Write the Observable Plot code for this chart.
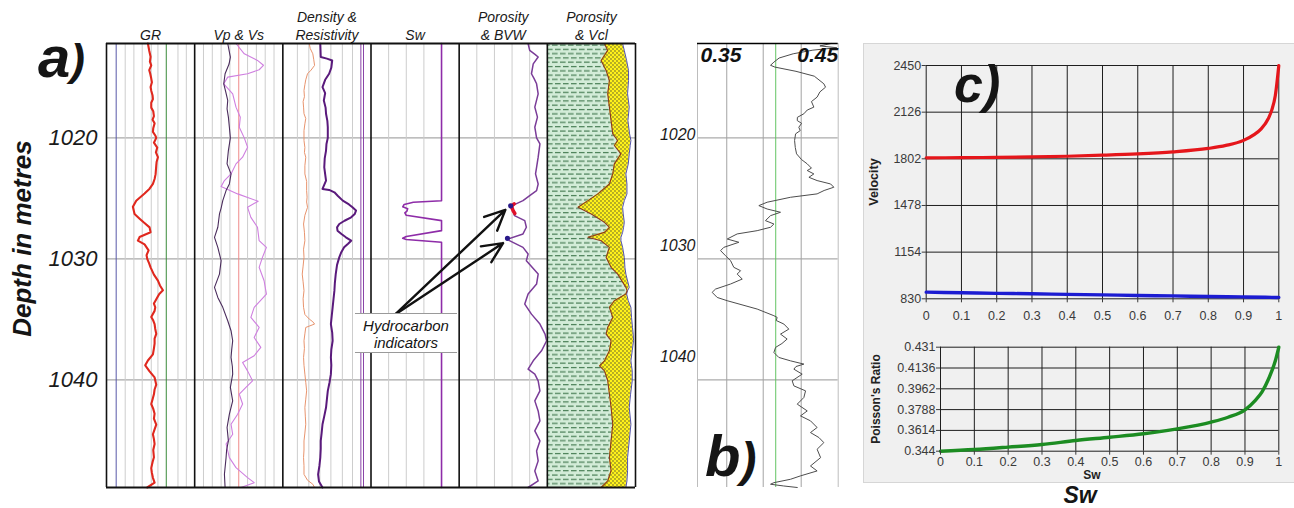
<!DOCTYPE html>
<html><head><meta charset="utf-8">
<script src="https://cdn.jsdelivr.net/npm/d3@7"></script>
<script src="https://cdn.jsdelivr.net/npm/@observablehq/plot@0.6"></script>
<style>
html,body{margin:0;background:#fff;}
#fig{position:relative;width:1294px;height:508px;overflow:hidden;font-family:"Liberation Sans",Arial,sans-serif;}
#cbox{position:absolute;left:863px;top:43px;width:440px;height:440px;background:#f0f0f0;border:1px solid #d6d6d6;box-sizing:border-box;}
</style></head><body><div id="fig"><div id="cbox"></div></div>
<script>
// ---------------- DATA ----------------
const depthDomain = [1012.2, 1048.9];
const depthTicks = [1020, 1030, 1040];
const trackTitles = ["GR", "Vp & Vs", "Density &\nResistivity", "Sw", "Porosity\n& BVW", "Porosity\n& Vcl"];
const trackEdges = [0, 1, 2, 3, 4, 5, 6];

// GR (API) [depth, value]
const gr = [[1012.2,62],[1012.8,64],[1013.3,66],[1013.7,65],[1014.0,67],[1014.4,64],[1014.7,65.5],[1015.1,67],[1015.4,68],[1015.8,66],[1016.1,67],[1016.5,69],[1016.8,69.5],[1017.1,67],[1017.5,67],[1017.8,70],[1018.2,71],[1018.5,69],[1018.8,72],[1019.2,70],[1019.5,69.5],[1019.8,73],[1020.0,74.5],[1020.4,71],[1020.8,76],[1021.2,74],[1021.6,77],[1022.0,75],[1022.3,74.5],[1023.0,73.5],[1023.4,72],[1023.8,69.5],[1024.2,64.5],[1024.6,57],[1025.2,44.5],[1025.7,39.5],[1026.3,42],[1026.7,50],[1027.0,56],[1027.4,64.5],[1027.8,66],[1028.2,49.5],[1028.5,47],[1028.8,57],[1029.3,63],[1029.7,60],[1030.0,61],[1030.4,64],[1030.7,66],[1031.3,71],[1031.8,77],[1032.2,80],[1032.6,84.5],[1032.9,79],[1033.2,76],[1033.7,71],[1034.0,73],[1034.3,72],[1034.8,67],[1035.1,70],[1035.4,72],[1035.8,73],[1036.2,74.5],[1036.6,72],[1037.0,72],[1037.4,71],[1037.9,69.5],[1038.4,62],[1038.8,58],[1039.3,64.5],[1039.8,72],[1040.4,74.5],[1040.8,72],[1041.2,71],[1041.6,69],[1042.0,67],[1042.4,70],[1042.8,72],[1043.2,71],[1043.7,74.5],[1044.1,72],[1044.5,69.5],[1044.9,71],[1045.3,72],[1045.8,70],[1046.4,71],[1046.8,69],[1047.3,67],[1047.7,68],[1048.1,69.5],[1048.5,72],[1048.9,61]];
const grGrid = [28, 41, 53.5, 67, 77, 107, 119.5];
const grBlue = [14.5];
const grGreen = [89.5];

// Vp (m/s) and Vs (m/s)
const vp = [[1012.2,2250],[1013.05,2400],[1013.6,2640],[1014.0,2748],[1014.37,2670],[1014.7,2460],[1014.98,2100],[1015.53,2028],[1016.36,2190],[1017.46,2250],[1018.29,2328],[1019.12,2310],[1020.0,2400],[1020.77,2460],[1021.6,2370],[1022.15,2250],[1022.98,2160],[1023.53,2040],[1024.03,1980],[1024.63,2280],[1025.24,2652],[1025.74,2460],[1026.57,2520],[1027.39,2640],[1028.5,2670],[1029.05,2802],[1029.88,2730],[1030.7,2670],[1031.81,2760],[1032.91,2802],[1034.01,2580],[1034.84,2520],[1035.67,2670],[1036.5,2580],[1037.32,2700],[1038.01,2580],[1038.57,2370],[1039.26,2460],[1040.08,2550],[1040.63,2430],[1041.19,2310],[1042.0,2370],[1042.84,2280],[1043.67,2160],[1044.5,2190],[1045.3,2070],[1046.43,2130],[1047.26,2250],[1048.08,2460],[1048.5,2580],[1048.9,2340]];
const vpGrid = [1660, 1820, 1980, 2140, 2460, 2620, 2780, 2940];
const vpMid = [2300];
const vs = [[1012.2,800],[1013.32,824],[1013.9,812],[1014.7,776],[1015.53,764],[1016.2,782],[1016.9,800],[1017.6,794],[1018.29,806],[1019.12,815],[1020.0,824],[1021.05,806],[1022.15,794],[1022.98,830],[1023.81,815],[1024.36,785],[1025.19,755],[1025.8,740],[1026.29,725],[1027.39,710],[1028.22,680],[1029.05,710],[1030.15,740],[1031.26,725],[1032.36,680],[1033.19,710],[1034.01,755],[1035.12,800],[1035.94,830],[1036.77,845],[1037.5,836],[1038.15,830],[1038.9,842],[1039.53,845],[1040.63,824],[1041.74,845],[1042.84,815],[1043.94,794],[1045.05,806],[1045.8,790],[1046.43,785],[1047.81,770],[1048.9,776]];

// Resistivity (ohm.m) and density (g/cc)
const res = [[1012.22,8.5],[1013.32,8.6],[1013.45,10.0],[1013.6,11.2],[1014.2,11.0],[1014.7,10.5],[1015.2,9.6],[1015.81,9.0],[1016.3,9.6],[1016.91,9.3],[1017.5,9.7],[1018.01,9.8],[1018.6,10.1],[1019.12,10.2],[1020.0,10.2],[1020.5,9.9],[1021.05,9.8],[1021.7,9.5],[1022.43,9.4],[1023.0,9.6],[1023.53,9.8],[1024.22,9.0],[1024.3,10.5],[1024.5,11.7],[1024.8,12.5],[1025.19,13.6],[1025.5,15.0],[1025.74,15.8],[1026.01,16.6],[1026.3,16.3],[1026.57,15.5],[1026.85,14.0],[1027.12,12.8],[1027.4,12.3],[1027.67,12.4],[1027.95,13.3],[1028.22,14.3],[1028.5,15.5],[1028.75,14.8],[1029.05,13.9],[1029.5,13.2],[1029.88,12.8],[1030.5,12.3],[1031.26,12.0],[1032.0,11.8],[1032.63,11.7],[1033.3,11.5],[1034.01,11.3],[1034.7,11.1],[1035.39,10.9],[1036.1,11.2],[1036.77,11.3],[1037.5,11.0],[1038.15,10.9],[1038.8,11.0],[1039.53,10.9],[1040.2,10.6],[1040.91,10.2],[1041.6,10.0],[1042.29,9.8],[1043.0,9.4],[1043.67,9.0],[1044.4,8.8],[1045.05,8.6],[1045.7,8.6],[1046.43,8.5],[1047.1,8.3],[1047.81,8.0],[1048.4,8.2],[1048.9,9.0]];
const resGrid = [3.3, 5.9, 8.4, 10.9, 13.5, 15.8];
const resCutoffs = [17.7, 18.3];
const rhob = [[1012.22,2.20],[1012.6,2.21],[1013.05,2.24],[1013.5,2.25],[1014.01,2.26],[1014.4,2.22],[1014.7,2.18],[1015.2,2.16],[1015.6,2.15],[1016.08,2.14],[1016.6,2.145],[1017.0,2.13],[1017.46,2.135],[1018.0,2.14],[1018.4,2.16],[1018.84,2.15],[1019.4,2.14],[1020.22,2.14],[1020.8,2.15],[1021.2,2.145],[1021.6,2.16],[1022.3,2.15],[1022.98,2.15],[1023.6,2.17],[1024.36,2.17],[1024.9,2.175],[1025.3,2.17],[1025.74,2.18],[1026.4,2.15],[1027.12,2.135],[1027.8,2.145],[1028.5,2.15],[1029.2,2.135],[1029.88,2.14],[1030.6,2.13],[1031.26,2.12],[1031.9,2.13],[1032.63,2.14],[1033.3,2.13],[1034.01,2.135],[1034.6,2.15],[1034.98,2.20],[1035.2,2.24],[1035.39,2.26],[1035.67,2.16],[1036.2,2.15],[1036.77,2.14],[1037.4,2.145],[1038.15,2.135],[1038.8,2.14],[1039.53,2.15],[1040.2,2.16],[1040.91,2.17],[1041.6,2.16],[1042.29,2.15],[1043.0,2.155],[1043.67,2.16],[1044.4,2.15],[1045.05,2.14],[1045.8,2.14],[1046.43,2.135],[1047.1,2.14],[1047.81,2.14],[1048.3,2.18],[1048.63,2.24],[1048.9,2.26]];

// Sw (fraction)
const sw = [[1012.2,1],[1025.2,1],[1025.32,0.6],[1025.5,0.47],[1025.7,0.45],[1025.85,0.52],[1026.05,0.51],[1026.2,0.48],[1026.4,0.5],[1026.84,1],[1027.67,1],[1028.15,0.5],[1028.3,0.45],[1028.4,0.5],[1028.63,1],[1048.9,1]];
const swGrid = [0.25, 0.5, 0.75];

// Porosity (fraction)
const phi = [[1012.22,0.391],[1012.77,0.400],[1013.1,0.43],[1013.32,0.448],[1013.88,0.420],[1014.70,0.410],[1015.1,0.425],[1015.53,0.439],[1016.36,0.448],[1017.46,0.429],[1018.29,0.444],[1019.12,0.429],[1020.0,0.439],[1020.5,0.458],[1021.6,0.448],[1022.43,0.439],[1022.98,0.433],[1023.81,0.448],[1024.36,0.439],[1024.77,0.400],[1025.19,0.362],[1025.6,0.301],[1026.01,0.305],[1026.43,0.314],[1026.84,0.372],[1027.39,0.381],[1027.94,0.362],[1028.36,0.276],[1028.5,0.285],[1029.05,0.362],[1029.6,0.391],[1030.15,0.381],[1031.26,0.448],[1032.08,0.439],[1032.91,0.391],[1033.74,0.372],[1034.57,0.410],[1035.39,0.458],[1036.22,0.487],[1036.77,0.496],[1037.6,0.467],[1038.43,0.420],[1039.12,0.391],[1039.53,0.429],[1040.08,0.448],[1040.91,0.458],[1041.74,0.429],[1042.57,0.448],[1043.39,0.458],[1044.22,0.429],[1045.05,0.458],[1045.88,0.439],[1046.70,0.448],[1047.53,0.429],[1048.36,0.448],[1048.9,0.391]];
const phiGrid = [0.1, 0.2, 0.3, 0.4];
const hcFlag = [[1025.45,0.312],[1025.6,0.299],[1025.8,0.300],[1026.05,0.307],[1026.25,0.316]];
const hcDots = [[1025.62,0.292],[1028.3,0.274]];
const hcArrowTips = [{depth: 1025.95, porosity: 0.262}, {depth: 1028.7, porosity: 0.249}];
const hcLabelAnchor = {depth: 1034.57, porosity: -0.361};

// Vcl track: [depth, shale boundary, sand boundary] (fraction of track)
const vcl = [[1012.22,0.648,0.854],[1012.77,0.685,0.873],[1013.6,0.610,0.899],[1014.43,0.667,0.921],[1015.26,0.704,0.921],[1016.36,0.685,0.910],[1017.46,0.704,0.929],[1018.57,0.723,0.914],[1019.67,0.742,0.933],[1020.22,0.798,0.948],[1020.63,0.760,0.940],[1021.32,0.835,0.929],[1022.15,0.760,0.918],[1022.98,0.742,0.891],[1023.81,0.704,0.903],[1024.63,0.573,0.903],[1025.19,0.461,0.873],[1025.74,0.348,0.854],[1026.29,0.498,0.861],[1026.98,0.648,0.873],[1027.39,0.704,0.865],[1027.81,0.648,0.854],[1028.22,0.461,0.835],[1028.50,0.610,0.835],[1029.05,0.704,0.854],[1029.88,0.667,0.873],[1030.70,0.723,0.880],[1031.26,0.798,0.891],[1032.36,0.891,0.929],[1032.63,0.905,0.910],[1032.91,0.891,0.900],[1033.46,0.760,0.918],[1034.01,0.704,0.948],[1034.84,0.742,0.955],[1035.67,0.685,0.966],[1036.22,0.667,0.974],[1036.77,0.723,0.978],[1037.60,0.704,0.963],[1038.43,0.648,0.948],[1038.84,0.592,0.955],[1039.26,0.648,0.963],[1040.08,0.685,0.963],[1041.19,0.704,0.944],[1042.29,0.723,0.929],[1043.67,0.742,0.948],[1045.05,0.723,0.929],[1046.43,0.704,0.910],[1047.50,0.723,0.910],[1048.36,0.685,0.903],[1048.9,0.610,0.891]];

// Panel b
const bScale = [0.35, 0.45];
const bGrid = [0.3708, 0.3967, 0.4237];
const bCutoff = [0.4056];
const bCurve = [[1012.2,0.445],[1012.4,0.437],[1012.55,0.449],[1012.75,0.432],[1013.05,0.418],[1013.4,0.408],[1013.74,0.4043],[1014.0,0.4019],[1014.15,0.405],[1014.5,0.42],[1014.9,0.433],[1015.53,0.4398],[1015.81,0.441],[1016.2,0.437],[1016.63,0.435],[1017.0,0.431],[1017.46,0.4327],[1017.7,0.428],[1018.01,0.4256],[1018.3,0.421],[1018.57,0.4209],[1018.8,0.424],[1019.12,0.422],[1019.4,0.423],[1019.67,0.4197],[1020.22,0.419],[1020.8,0.4195],[1021.32,0.4204],[1021.8,0.424],[1022.15,0.428],[1022.5,0.431],[1022.7,0.428],[1022.98,0.4327],[1023.26,0.4292],[1023.53,0.435],[1023.81,0.4446],[1024.08,0.4469],[1024.35,0.44],[1024.63,0.435],[1024.91,0.4161],[1025.32,0.3995],[1025.6,0.3936],[1025.88,0.3995],[1026.15,0.409],[1026.43,0.4019],[1026.84,0.3983],[1027.12,0.4043],[1027.39,0.4019],[1027.67,0.3924],[1027.94,0.3782],[1028.36,0.3711],[1028.63,0.3794],[1029.05,0.3687],[1029.32,0.3664],[1029.74,0.3699],[1030.15,0.3735],[1030.7,0.3758],[1030.98,0.3806],[1031.26,0.3782],[1031.67,0.3818],[1032.08,0.3735],[1032.5,0.3628],[1032.77,0.3604],[1033.19,0.364],[1033.46,0.3711],[1034.15,0.3924],[1034.7,0.4043],[1034.84,0.4066],[1035.1,0.406],[1035.39,0.4114],[1035.81,0.4149],[1036.22,0.409],[1036.63,0.4137],[1037.0,0.41],[1037.32,0.4055],[1037.74,0.4043],[1038.15,0.4078],[1038.43,0.4161],[1038.7,0.4256],[1038.9,0.42],[1039.12,0.4185],[1039.53,0.4244],[1040.08,0.4173],[1040.5,0.4185],[1040.91,0.4268],[1041.46,0.4256],[1042.01,0.4209],[1042.57,0.428],[1042.98,0.4232],[1043.39,0.4303],[1043.94,0.435],[1044.36,0.4303],[1044.77,0.4363],[1045.19,0.4398],[1045.74,0.435],[1046.43,0.4375],[1047.12,0.4303],[1047.53,0.435],[1047.94,0.4232],[1048.22,0.4161],[1048.5,0.4043],[1048.63,0.4019],[1048.77,0.411],[1048.9,0.4209]];

// Panel c
const swTicks = [0, 0.1, 0.2, 0.3, 0.4, 0.5, 0.6, 0.7, 0.8, 0.9, 1];
const velTicks = [830, 1154, 1478, 1802, 2126, 2450];
const prTicks = [0.344, 0.3614, 0.3788, 0.3962, 0.4136, 0.431];
const vpSw = [[0,1809],[0.1,1810],[0.2,1812],[0.3,1815],[0.4,1820],[0.5,1827],[0.6,1836],[0.7,1850],[0.8,1874],[0.85,1895],[0.9,1930],[0.93,1970],[0.95,2010],[0.97,2080],[0.98,2140],[0.99,2240],[1,2450]];
const vsSw = [[0,876],[0.1,872],[0.2,868],[0.3,865],[0.4,861],[0.5,857],[0.6,853],[0.7,850],[0.8,846],[0.9,843],[1,839]];
const prSw = [[0,0.344],[0.1,0.3454],[0.2,0.3474],[0.3,0.3496],[0.4,0.353],[0.5,0.3557],[0.6,0.3586],[0.7,0.3627],[0.8,0.3683],[0.85,0.3724],[0.9,0.3786],[0.93,0.3864],[0.95,0.3934],[0.97,0.4046],[0.99,0.4199],[1,0.431]];

// ---------------- LAYOUT ----------------
const FONT = '"Liberation Sans", Arial, sans-serif';
const fig = document.getElementById("fig");
const A = {width: 640, height: 508, left: 106, right: 635, top: 43, bottom: 487};
function mount(svg, left, top) {
  Object.assign(svg.style, {position: "absolute", left: left + "px", top: top + "px", background: "transparent", overflow: "visible", fontFamily: FONT, maxWidth: "none"});
  fig.appendChild(svg);
}
const yDepth = () => ({domain: depthDomain, reverse: true, axis: null});
const D = d => d[0], V = d => d[1];
function track(i, x, marks) {
  const w = (A.right - A.left) / 6, l = A.left + i * w, r = l + w;
  mount(Plot.plot({width: A.width, height: A.height, marginLeft: l, marginRight: A.width - r,
    marginTop: A.top, marginBottom: A.height - A.bottom, x: {...x, axis: null}, y: yDepth(), marks}), 0, 0);
}
const patternDefs = () => {
  const g = document.createElementNS("http://www.w3.org/2000/svg", "defs");
  g.innerHTML = `<pattern id="shalePat" patternUnits="userSpaceOnUse" width="8" height="8.6">
      <rect width="8" height="8.6" fill="#d3ecd8"/>
      <path d="M0 2h5.6M3 6.3h5M0 6.3h0.6" stroke="#477d54" stroke-width="1.1"/></pattern>
    <pattern id="sandPat" patternUnits="userSpaceOnUse" width="4" height="4">
      <rect width="4" height="4" fill="#fff21a"/>
      <circle cx="1" cy="1" r="0.65" fill="#333"/><circle cx="3" cy="3" r="0.65" fill="#333"/></pattern>`;
  return g;
};

// Panel a: base (grid, depth axis, titles)
mount(Plot.plot({
  width: A.width, height: A.height, marginLeft: A.left, marginRight: A.width - A.right,
  marginTop: A.top, marginBottom: A.height - A.bottom,
  x: {domain: [0, 6], axis: null}, y: {domain: depthDomain, reverse: true},
  marks: [
    Plot.ruleY(depthTicks, {stroke: "#a8a8a8", strokeWidth: 1.3}),
    Plot.axisY({ticks: depthTicks, tickFormat: d => String(d), tickSize: 0, tickPadding: 9, fontSize: 22, fontStyle: "italic", label: null, color: "#1a1a1a"}),
    Plot.text(trackTitles, {x: (d, i) => i + 0.5, frameAnchor: "top", lineAnchor: "bottom", dy: -4, fontSize: 14, fontStyle: "italic", lineHeight: 1.22, fill: "#1a1a1a"})
  ]
}), 0, 0);

// GR
track(0, {domain: [0, 132]}, [
  Plot.ruleX(grGrid, {stroke: "#cdcdcd"}),
  Plot.ruleX(grBlue, {stroke: "#5858a8"}),
  Plot.ruleX(grGreen, {stroke: "#3a8a3a"}),
  Plot.line(gr, {x: V, y: D, stroke: "#e0281e", strokeWidth: 2.1})
]);
// Vp & Vs
track(1, {domain: [1500, 3100]}, [
  Plot.ruleX(vpGrid, {stroke: "#cdcdcd"}),
  Plot.ruleX(vpMid, {stroke: "#ef8a8a"}),
  Plot.line(vp, {x: V, y: D, stroke: "#cf7fe0", strokeWidth: 1.1})
]);
track(1, {domain: [500, 1300]}, [
  Plot.line(vs, {x: V, y: D, stroke: "#4a2c5c", strokeWidth: 1.1})
]);
// Density & Resistivity
track(2, {domain: [0, 20]}, [
  Plot.ruleX(resGrid, {stroke: "#cdcdcd"}),
  Plot.ruleX(resCutoffs, {stroke: "#8a45a8"}),
  Plot.line(res, {x: V, y: D, stroke: "#5a1a7c", strokeWidth: 2})
]);
track(2, {domain: [1.9, 2.9]}, [
  Plot.line(rhob, {x: V, y: D, stroke: "#e8946e", strokeWidth: 1})
]);
// Sw
track(3, {domain: [0, 1.25]}, [
  Plot.ruleX(swGrid, {stroke: "#cdcdcd"}),
  Plot.line(sw, {x: V, y: D, stroke: "#8e2ca8", strokeWidth: 1.6})
]);
// Porosity & BVW
track(4, {domain: [0, 0.5]}, [
  Plot.ruleX(phiGrid, {stroke: "#cdcdcd"}),
  Plot.line(phi, {x: V, y: D, stroke: "#7a3c98", strokeWidth: 1.5}),
  Plot.line(hcFlag, {x: V, y: D, stroke: "#e0102a", strokeWidth: 3.5}),
  Plot.dot(hcDots, {x: V, y: D, r: 2.6, fill: "#2a1a8a"}),
  Plot.arrow(hcArrowTips, {x1: hcLabelAnchor.porosity, y1: hcLabelAnchor.depth, x2: "porosity", y2: "depth", stroke: "#111", strokeWidth: 2.4, headLength: 14, headAngle: 50})
]);
// Porosity & Vcl
track(5, {domain: [0, 1]}, [
  patternDefs,
  Plot.areaX(vcl, {y: D, x1: 0, x2: d => d[1], fill: "url(#shalePat)"}),
  Plot.areaX(vcl, {y: D, x1: d => d[1], x2: d => d[2], fill: "url(#sandPat)"}),
  Plot.line(vcl, {x: d => d[2], y: D, stroke: "#3e3ea0", strokeWidth: 0.9}),
  Plot.line(vcl, {x: d => d[1], y: D, stroke: "#8b3a1e", strokeWidth: 1.1})
]);
// Panel a: frame on top
mount(Plot.plot({
  width: A.width, height: A.height, marginLeft: A.left, marginRight: A.width - A.right,
  marginTop: A.top, marginBottom: A.height - A.bottom,
  x: {domain: [0, 6], axis: null}, y: yDepth(),
  marks: [
    Plot.ruleX(trackEdges, {stroke: "#111", strokeWidth: 1.6}),
    Plot.ruleY(depthDomain, {stroke: "#111", strokeWidth: 1.8})
  ]
}), 0, 0);

// Panel b
const B = {width: 220, marginLeft: 57, marginRight: 22.3};
mount(Plot.plot({
  width: B.width, height: A.height, marginLeft: B.marginLeft, marginRight: B.marginRight,
  marginTop: A.top, marginBottom: A.height - A.bottom,
  x: {domain: bScale, axis: null}, y: yDepth(),
  marks: [
    Plot.ruleY(depthTicks, {stroke: "#ababab", strokeWidth: 1.2}),
    Plot.ruleX(bScale, {stroke: "#bdbdbd"}),
    Plot.ruleX(bGrid, {stroke: "#a3a3a3"}),
    Plot.ruleX(bCutoff, {stroke: "#63c463"}),
    Plot.line(bCurve, {x: V, y: D, stroke: "#4d4d4d", strokeWidth: 1}),
    Plot.ruleY([depthDomain[0]], {stroke: "#000", strokeWidth: 1.6}),
    Plot.text([bScale[0]], {x: d => d, text: d => d.toFixed(2), frameAnchor: "top", lineAnchor: "top", textAnchor: "start", dx: 3, dy: 4, fontSize: 21, fontWeight: "bold", fontStyle: "italic", fill: "#111"}),
    Plot.text([bScale[1]], {x: d => d, text: d => d.toFixed(2), frameAnchor: "top", lineAnchor: "top", textAnchor: "end", dx: 0, dy: 4, fontSize: 21, fontWeight: "bold", fontStyle: "italic", fill: "#111"})
  ]
}), 640, 0);
// panel b depth annotation, as printed (its own scale)
mount(Plot.plot({
  width: B.width, height: A.height, marginLeft: B.marginLeft, marginRight: B.marginRight,
  marginTop: A.top, marginBottom: A.height - A.bottom,
  x: {domain: bScale, axis: null}, y: {domain: [1011.8, 1051.8], reverse: true},
  marks: [Plot.axisY({ticks: depthTicks, tickFormat: d => String(d), tickSize: 0, tickPadding: 2, fontSize: 16, fontStyle: "italic", label: null, color: "#1a1a1a"})]
}), 640, 0);

// Panel c: velocity
mount(Plot.plot({
  width: 431, height: 287, marginLeft: 62.7, marginRight: 15.7, marginTop: 22, marginBottom: 31.7,
  x: {domain: [0, 1]}, y: {domain: [830, 2450]},
  marks: [
    Plot.ruleX(swTicks, {stroke: "#1e1e1e"}),
    Plot.ruleY(velTicks, {stroke: "#1e1e1e"}),
    Plot.line(vsSw, {x: D, y: V, stroke: "#1c1cd2", strokeWidth: 3.4, curve: "monotone-x"}),
    Plot.line(vpSw, {x: D, y: V, stroke: "#e5161b", strokeWidth: 3.2, curve: "monotone-x"}),
    Plot.axisX({ticks: swTicks, tickFormat: d => String(d), tickSize: 4, tickPadding: 8, fontSize: 12.5, color: "#3a3a3a", label: null}),
    Plot.axisY({ticks: velTicks, tickFormat: d => String(d), tickSize: 4, tickPadding: 1, fontSize: 12.5, color: "#3a3a3a", label: null})
  ]
}), 863, 43);
// Panel c: Poisson's ratio
mount(Plot.plot({
  width: 431, height: 153, marginLeft: 77, marginRight: 15.7, marginTop: 16.7, marginBottom: 32.3,
  x: {domain: [0, 1]}, y: {domain: [0.344, 0.431]},
  marks: [
    Plot.ruleX(swTicks, {stroke: "#1e1e1e"}),
    Plot.ruleY(prTicks, {stroke: "#1e1e1e"}),
    Plot.line(prSw, {x: D, y: V, stroke: "#1c8c22", strokeWidth: 3.4, curve: "monotone-x"}),
    Plot.axisX({ticks: swTicks, tickFormat: d => String(d), tickSize: 4, tickPadding: 1.5, fontSize: 12.5, color: "#3a3a3a", label: null}),
    Plot.axisY({ticks: prTicks, tickFormat: d => String(d), tickSize: 4, tickPadding: 1, fontSize: 12.5, color: "#3a3a3a", label: null})
  ]
}), 863, 330);

// ---------------- ANNOTATIONS ----------------
const ann = d3.create("svg").attr("width", 1294).attr("height", 508)
  .style("position", "absolute").style("left", "0px").style("top", "0px")
  .style("font-family", FONT).style("pointer-events", "none");
const big = (x, y, parts) => {
  const t = ann.append("text").attr("x", x).attr("y", y).attr("font-weight", "bold").attr("font-style", "italic").attr("fill", "#151515");
  parts.forEach(([s, size, dy]) => t.append("tspan").attr("font-size", size).attr("dy", dy || 0).text(s));
};
big(38, 77, [["a", 58], [")", 44, -2]]);
big(705, 476, [["b", 58], [")", 48]]);
big(954, 101.5, [["c", 52], [")", 52]]);
ann.append("text").attr("transform", "translate(31,238.5) rotate(-90)").attr("text-anchor", "middle")
  .attr("font-size", 26).attr("font-weight", "bold").attr("font-style", "italic").attr("fill", "#151515").text("Depth in metres");
// hydrocarbon label box
ann.append("rect").attr("x", 355).attr("y", 313).attr("width", 102).attr("height", 40).attr("fill", "#fff");
ann.append("line").attr("x1", 355).attr("x2", 457).attr("y1", 313.5).attr("y2", 313.5).attr("stroke", "#9a9a9a");
ann.append("line").attr("x1", 355).attr("x2", 457).attr("y1", 352.5).attr("y2", 352.5).attr("stroke", "#9a9a9a");
["Hydrocarbon", "indicators"].forEach((s, i) => ann.append("text").attr("x", 406).attr("y", 331 + i * 17)
  .attr("text-anchor", "middle").attr("font-size", 15).attr("font-style", "italic").attr("fill", "#151515").text(s));
// panel c axis titles
ann.append("text").attr("transform", "translate(878,182) rotate(-90)").attr("text-anchor", "middle")
  .attr("font-size", 12.5).attr("font-weight", "bold").attr("fill", "#222").text("Velocity");
ann.append("text").attr("transform", "translate(879.5,399) rotate(-90)").attr("text-anchor", "middle")
  .attr("font-size", 12).attr("font-weight", "bold").attr("fill", "#222").text("Poisson's Ratio");
ann.append("text").attr("x", 1092).attr("y", 479.2).attr("text-anchor", "middle")
  .attr("font-size", 12).attr("font-weight", "bold").attr("fill", "#222").text("Sw");
ann.append("text").attr("x", 1080).attr("y", 503).attr("text-anchor", "middle")
  .attr("font-size", 23).attr("font-weight", "bold").attr("font-style", "italic").attr("fill", "#151515").text("Sw");
fig.appendChild(ann.node());
</script></body></html>
